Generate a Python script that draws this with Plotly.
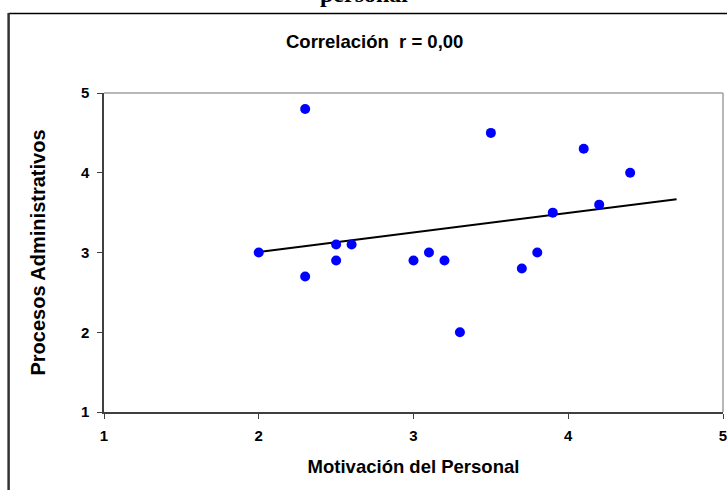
import numpy as np
import plotly.graph_objects as go

# Data
motivacion = [2.0, 2.3, 2.3, 2.5, 2.5, 2.6, 3.0, 3.1, 3.2, 3.3, 3.5, 3.7, 3.8, 3.9, 4.1, 4.2, 4.4]
procesos = [3.0, 4.8, 2.7, 3.1, 2.9, 3.1, 2.9, 3.0, 2.9, 2.0, 4.5, 2.8, 3.0, 3.5, 4.3, 3.6, 4.0]
tick_vals = [1, 2, 3, 4, 5]
trend_forward = 0.3

title_text = "Correlación  r = 0,00"
top_text = "personal"
x_title = "Motivación del Personal"
y_title = "Procesos Administrativos"

W, H = 727, 490
L, R, T, B = 104, 0, 93, 78
pw, ph = W - L - R, H - T - B

def px_x(px):
    return (px - L) / pw

def px_y(py):
    return 1 - (py - T) / ph

# Linear trend line
slope, intercept = np.polyfit(motivacion, procesos, 1)
tx = np.array([min(motivacion), max(motivacion) + trend_forward])
ty = slope * tx + intercept

font_family = "Liberation Sans, Arial, sans-serif"

fig = go.Figure()
fig.add_trace(go.Scatter(
    x=tx, y=ty, mode="lines",
    line=dict(color="black", width=2),
    hoverinfo="skip", showlegend=False,
))
fig.add_trace(go.Scatter(
    x=motivacion, y=procesos, mode="markers",
    marker=dict(color="#0000FF", size=10, line=dict(width=0)),
    showlegend=False,
))

axis_common = dict(
    range=[1, 5], tickvals=tick_vals, ticks="outside", ticklen=5,
    tickcolor="#404040", tickwidth=1, showgrid=False, zeroline=False,
    showline=True, linecolor="#404040", linewidth=1.5,
    ticklabeloverflow="allow",
    tickfont=dict(family=font_family, size=15, color="black", weight="bold"),
)

fig.update_layout(
    width=W, height=H,
    margin=dict(l=L, r=R, t=T, b=B, pad=0),
    paper_bgcolor="white", plot_bgcolor="white",
    xaxis=dict(**axis_common, ticklabelstandoff=4,
               title=dict(text=x_title, standoff=17,
                          font=dict(family=font_family, size=18.5, color="black", weight="bold"))),
    yaxis=dict(**axis_common, ticklabelstandoff=5,
               title=dict(text=y_title, standoff=30,
                          font=dict(family=font_family, size=20, color="black", weight="bold"))),
    font=dict(family=font_family),
    shapes=[
        # plot area top and right border (gray)
        dict(type="line", xref="paper", yref="paper", x0=0, x1=1, y0=1, y1=1,
             line=dict(color="#A0A0A0", width=1.5)),
        dict(type="line", xref="paper", yref="paper", x0=1, x1=1, y0=0, y1=1,
             line=dict(color="#A0A0A0", width=1.5)),
        # chart area border
        dict(type="line", xref="paper", yref="paper", x0=px_x(8), x1=px_x(740),
             y0=px_y(13.5), y1=px_y(13.5), line=dict(color="black", width=1.5)),
        dict(type="line", xref="paper", yref="paper", x0=px_x(8), x1=px_x(8),
             y0=px_y(13), y1=px_y(500), line=dict(color="#333333", width=2.5)),
    ],
    annotations=[
        dict(text=title_text, xref="paper", yref="paper", x=px_x(376.5), y=px_y(42),
             xanchor="center", yanchor="middle", showarrow=False,
             font=dict(family=font_family, size=18.5, color="black", weight="bold")),
        dict(text=top_text, xref="paper", yref="paper", x=px_x(366), y=px_y(9),
             xanchor="center", yanchor="bottom", showarrow=False,
             font=dict(family="Liberation Serif, Times New Roman, serif", size=24,
                       color="black", weight="bold")),
    ],
)

fig.write_html("out.html", config={"displayModeBar": False},
               post_script="document.body.style.margin='0';")
